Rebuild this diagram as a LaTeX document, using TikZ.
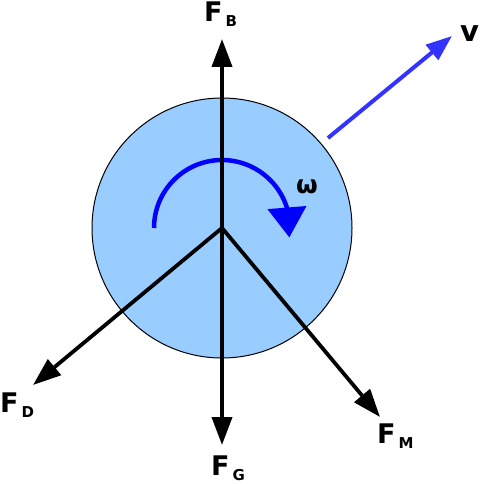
\documentclass[tikz,border=0pt]{standalone}
\usepackage{fontspec}
\setmainfont{DejaVu Sans}
\usetikzlibrary{arrows.meta,bending}
\definecolor{ballblue}{HTML}{99CCFF}
\definecolor{velblue}{HTML}{3333FF}
\definecolor{spinblue}{HTML}{0000FF}
\tikzset{
  force/.style={line width=3.8pt,-{Triangle[length=28pt,width=20pt]}},
  velocity/.style={velblue,line width=4pt,-{Triangle[length=26pt,width=19pt]}},
  spin/.style={spinblue,line width=4.5pt,-{Triangle[length=30pt,width=38pt,flex]}},
  lbl/.style={inner sep=0pt,anchor=base west,font=\fontsize{27}{27}\selectfont\bfseries}
}
\newcommand{\forcename}[1]{F\kern3pt\raisebox{-5pt}{\fontsize{15}{15}\selectfont\bfseries #1}}

\begin{document}
\begin{tikzpicture}[x=1pt,y=-1pt]
            \useasboundingbox (0,0) rectangle (479,484);
            \coordinate (O) at (222,228);
            \draw[fill=ballblue,line width=1pt] (O) circle (130);
            \coordinate (tipB) at (222,39);
            \coordinate (tipG) at (222,445);
            \coordinate (tipD) at (33,385);
            \coordinate (tipM) at (380,417);
            \coordinate (vstart) at (328,138);
            \coordinate (vtip) at (452,36);
            \draw[spin] ([shift={(180:68)}]O) arc (180:368:68);
            \draw[force] (O) -- (tipB);
            \draw[force] (O) -- (tipG);
            \draw[force] (O) -- (tipD);
            \draw[force] (O) -- (tipM);
            \draw[velocity] (vstart) -- (vtip);
            \node[lbl] (labB) at (204,22) {\forcename{B}};
            \node[lbl] (labD) at (0,412) {\forcename{D}};
            \node[lbl] (labG) at (211,475) {\forcename{G}};
            \node[lbl] (labM) at (377,443) {\forcename{M}};
            \node[lbl,font=\fontsize{29}{29}\selectfont\bfseries] (labv) at (460,42) {v};
            \node[lbl,font=\fontsize{25}{25}\selectfont\bfseries] (labw) at (296,193) {ω};
        \end{tikzpicture}
\end{document}
